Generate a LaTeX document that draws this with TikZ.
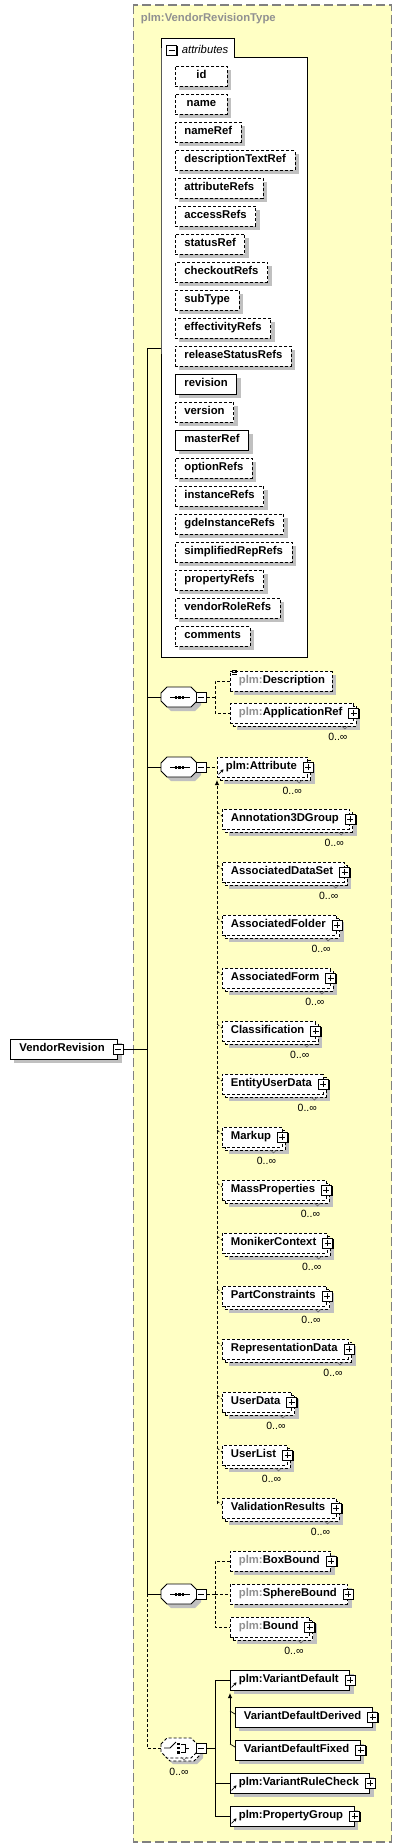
\documentclass[tikz,border=0pt]{standalone}
\usepackage{fontspec}
\setmainfont{Liberation Sans}
\usetikzlibrary{shadows,arrows.meta,calc}
\definecolor{bgyellow}{RGB}{255,255,196}
\definecolor{framegray}{RGB}{128,128,128}
\definecolor{shadowgray}{RGB}{192,192,192}
\definecolor{refgray}{RGB}{145,145,145}
\newcommand\fsz{\fontsize{11.3}{13}\selectfont}
\newcommand\padtxt[1]{\hspace*{8.5pt}#1\hspace*{11pt}}
\newcommand\padnoicon[1]{\hspace*{8.5pt}#1\hspace*{7pt}}
\newcommand\gp{\textcolor{refgray}{plm:}}
\newcommand\octpath[2]{(#1,#2-4) -- (#1+6,#2-10) -- (#1+30,#2-10) -- (#1+36,#2-4) -- (#1+36,#2+4) -- (#1+30,#2+10) -- (#1+6,#2+10) -- (#1,#2+4) -- cycle}
\tikzset{
  dsh/.style={dash pattern=on 3pt off 2pt},
  elbase/.style={rectangle, draw=black, fill=white, line width=0.8pt, minimum height=20pt,
     inner xsep=0pt, inner ysep=0pt, text height=8.2pt, text depth=2.4pt,
     font=\fsz\bfseries, anchor=west},
  onesh/.style={drop shadow={shadow xshift=4pt, shadow yshift=-4pt, fill=shadowgray, opacity=1, draw=none}},
  req/.style={elbase, onesh},
  opt/.style={elbase, dsh, onesh},
  optmany/.style={elbase, dsh,
     drop shadow={shadow xshift=7pt, shadow yshift=-7pt, fill=shadowgray, opacity=1, draw=none},
     copy shadow={shadow xshift=3pt, shadow yshift=-3pt, draw=black, fill=white, dsh, opacity=1}},
  attrbox/.style={minimum width=52pt, inner xsep=9pt},
  multlbl/.style={font=\fontsize{10.5}{12}\selectfont, inner sep=0pt},
  pics/plusicon/.style={code={
     \draw[line width=1.3pt] (5.6,-4) -- (5.6,5.6) -- (-4,5.6);
     \filldraw[fill=white, draw=black, line width=0.9pt] (-5,-5) rectangle (5,5);
     \draw[line width=0.9pt] (-3,0) -- (3,0) (0,-3) -- (0,3);}},
  pics/minusicon/.style={code={
     \draw[line width=1.3pt] (5.6,-4) -- (5.6,5.6) -- (-4,5.6);
     \filldraw[fill=white, draw=black, line width=0.9pt] (-5,-5) rectangle (5,5);
     \draw[line width=0.9pt] (-3,0) -- (3,0);}},
}
\newcommand\multof[1]{%
  \draw[black!60, line width=0.6pt] ($(#1.east)+(-6,13)$) -- ++(-3,3) -- ++(-3,-3);
  \node[multlbl] at ($(#1.east)+(-16,24)$) {0..∞};}
\newcommand\refarrow[1]{\draw[line width=0.8pt, -{Stealth[length=3pt,width=3.5pt]}] ($(#1.south west)+(1.5,-3)$) -- ++(5,-5);}
\newcommand\seqsym[2]{%
  \node[minimum width=36pt, minimum height=20pt, inner sep=0pt, anchor=west] (#1) at (161,#2) {};
  \fill[shadowgray] \octpath{165}{#2+4};
  \draw[fill=white, line width=0.8pt] \octpath{161}{#2};
  \draw[line width=0.9pt] (170,#2) -- (190,#2);
  \fill (175,#2-1.5) rectangle (177.2,#2+1.5);
  \fill (178.3,#2-1.5) rectangle (180.5,#2+1.5);
  \fill (181.6,#2-1.5) rectangle (183.8,#2+1.5);
  \pic at (201,#2) {minusicon};
  \coordinate (#1o) at (206.6,#2);}
\begin{document}
\begin{tikzpicture}[x=1pt, y=-1pt, line width=0.8pt]
\useasboundingbox (0,0) rectangle (402,1848);
% outer frame
\draw[framegray, fill=bgyellow, line width=1.3pt, dash pattern=on 9pt off 4pt] (133.3,5) rectangle (391.5,1842);
\node[anchor=west, text=refgray, font=\fsz\bfseries, inner sep=0pt] (title) at (140.5,19) {plm:VendorRevisionType};
% attributes container
\draw[fill=white, line width=0.9pt] (161,57) -- (161,38) -- (234,38) -- (234,57) -- (307,57) -- (307,657) -- (161,657) -- cycle;
\pic at (171.5,50) {minusicon};
\node[anchor=west, font=\fsz\itshape, inner sep=0pt] (attrlbl) at (181.5,49) {attributes};
\foreach \nm/\i in {id/0, name/1, nameRef/2, descriptionTextRef/3, attributeRefs/4, accessRefs/5, statusRef/6, checkoutRefs/7, subType/8, effectivityRefs/9, releaseStatusRefs/10, version/12, optionRefs/14, instanceRefs/15, gdeInstanceRefs/16, simplifiedRepRefs/17, propertyRefs/18, vendorRoleRefs/19, comments/20}
  {\node[opt, attrbox] (a\i) at (175,76+28*\i) {\nm};}
\foreach \nm/\i in {revision/11, masterRef/13}
  {\node[req, attrbox] (a\i) at (175,76+28*\i) {\nm};}
% root element
\node[req] (vr) at (10,1049) {\hspace*{9pt}VendorRevision\hspace*{13pt}};
\pic at (vr.east) {minusicon};
% trunk
\coordinate (tTop) at (147,348);
\coordinate (tAttr) at (161,348);
\coordinate (tVR) at (147,1049);
\coordinate (tS1) at (147,697);
\coordinate (tS2) at (147,767);
\coordinate (tS3) at (147,1594);
\coordinate (tCh) at (147,1748);
\draw ([xshift=6pt]vr.east) -- (tVR);
\draw (tAttr) -- (tTop) -- (tS3);
% sequence 1
\seqsym{s1}{697}
\draw (tS1) -- (s1.west);
\coordinate (s1j) at (215,697);
\coordinate (s1a) at (215,681);
\coordinate (s1b) at (215,713);
\node[opt] (desc) at (230,681) {\padnoicon{\gp Description}};
\draw[line width=0.6pt] (232,670) -- (237,670) (232,672) -- (237,672) (232,674) -- (237,674);
\node[optmany] (appref) at (230,713) {\padtxt{\gp ApplicationRef}};
\pic at (appref.east) {plusicon};
\multof{appref}
\draw[dsh] (s1o) -- (s1j);
\draw[dsh] (desc.west) -- (s1a) -- (s1b) -- (appref.west);
% sequence 2
\seqsym{s2}{767}
\draw (tS2) -- (s2.west);
\node[optmany] (attr) at (217,767) {\padtxt{plm:Attribute}};
\pic at (attr.east) {plusicon};
\multof{attr}
\refarrow{attr}
\draw[dsh] (s2o) -- (attr.west);
\foreach \nm [count=\k from 0] in {Annotation3DGroup, AssociatedDataSet, AssociatedFolder, AssociatedForm, Classification, EntityUserData, Markup, MassProperties, MonikerContext, PartConstraints, RepresentationData, UserData, UserList, ValidationResults}
{
  \node[optmany] (m\k) at (222,819+53*\k) {\padtxt{\nm}};
  \pic at (m\k.east) {plusicon};
  \multof{m\k}
  \draw[dsh, line width=0.7pt] (217,812+53*\k) -- ($(m\k.west)+(0,-3)$);
}
\coordinate (subTop) at (217,780);
\coordinate (subBot) at (217,1504);
\draw[dsh, -{Latex[length=5pt,width=4.5pt]}] (subBot) -- (subTop);
% sequence 3
\seqsym{s3}{1594}
\draw (tS3) -- (s3.west);
\node[opt] (boxb) at (230,1561) {\padtxt{\gp BoxBound}};
\pic at (boxb.east) {plusicon};
\node[opt] (sphb) at (230,1594) {\padtxt{\gp SphereBound}};
\pic at (sphb.east) {plusicon};
\node[optmany] (bnd) at (230,1627) {\padtxt{\gp Bound}};
\pic at (bnd.east) {plusicon};
\multof{bnd}
\coordinate (s3j) at (215,1594);
\coordinate (s3a) at (215,1561);
\coordinate (s3b) at (215,1627);
\draw[dsh] (s3o) -- (s3j);
\draw[dsh] (boxb.west) -- (s3a) -- (s3b) -- (bnd.west);
\draw[dsh] (s3j) -- (sphb.west);
% choice
\node[minimum width=36pt, minimum height=20pt, inner sep=0pt, anchor=west] (ch) at (161,1748) {};
\fill[shadowgray] \octpath{167}{1754};
\draw[fill=white, dsh] \octpath{164}{1751};
\draw[fill=white, dsh] \octpath{161}{1748};
\draw[line width=0.9pt] (164,1748) -- (170,1748) -- (176,1742);
\fill (177,1742.5) rectangle (180,1745);
\fill (177,1746.8) rectangle (180,1749.3);
\fill (177,1751.1) rectangle (180,1753.6);
\draw[line width=0.8pt] (181,1744) -- (185,1744) -- (185,1752) -- (181,1752) (185,1748) -- (189,1748);
\pic at (201,1748) {minusicon};
\coordinate (cho) at (206.6,1748);
\draw[black!60, line width=0.6pt] (187,1757) -- (184,1760) -- (181,1757);
\node[multlbl] at (179,1772) {0..∞};
\draw[dsh] (tS3) -- (tCh) -- (ch.west);
\node[req] (vd) at (230,1680) {\padtxt{plm:VariantDefault}};
\pic at (vd.east) {plusicon};
\refarrow{vd}
\node[req] (vdd) at (235,1717) {\padtxt{VariantDefaultDerived}};
\pic at (vdd.east) {plusicon};
\node[req] (vdf) at (235,1750) {\padtxt{VariantDefaultFixed}};
\pic at (vdf.east) {plusicon};
\node[req] (vrc) at (230,1783) {\padtxt{plm:VariantRuleCheck}};
\pic at (vrc.east) {plusicon};
\refarrow{vrc}
\node[req] (pg) at (230,1816) {\padtxt{plm:PropertyGroup}};
\pic at (pg.east) {plusicon};
\refarrow{pg}
\coordinate (chj) at (215,1748);
\coordinate (cha) at (215,1680);
\coordinate (chb) at (215,1816);
\coordinate (chc) at (215,1783);
\draw (cho) -- (chj);
\draw (vd.west) -- (cha) -- (chb) -- (pg.west);
\draw (chc) -- (vrc.west);
\coordinate (vsTop) at (230,1693);
\coordinate (vsBot) at (230,1744);
\draw[-{Latex[length=5pt,width=4.5pt]}] (vsBot) -- (vsTop);
\draw[line width=0.7pt] (230,1711) -- ($(vdd.west)+(0,-3)$);
\draw[line width=0.7pt] (vsBot) -- ($(vdf.west)+(0,-3)$);
\end{tikzpicture}
\end{document}
